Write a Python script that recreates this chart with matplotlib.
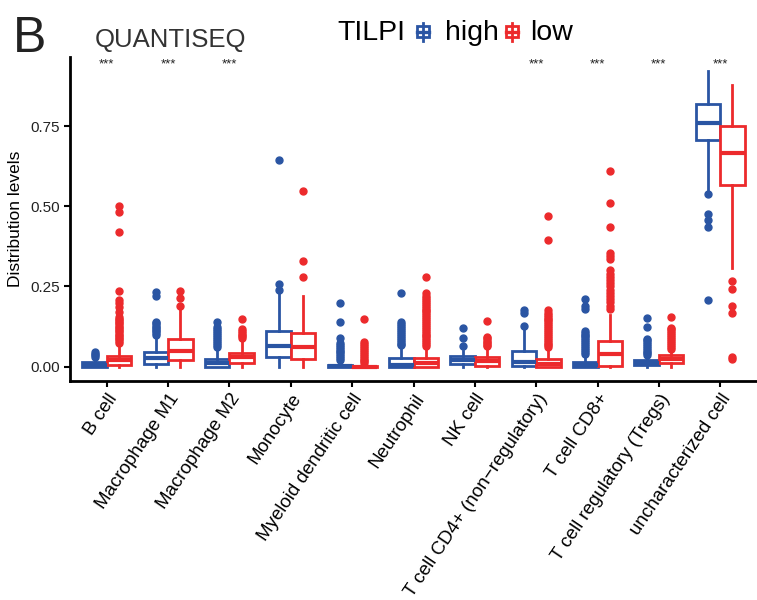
import matplotlib.pyplot as plt
from matplotlib.patches import Rectangle
from matplotlib.lines import Line2D

plt.rcParams['font.family'] = ['Liberation Sans', 'DejaVu Sans']

cells = ["B cell", "Macrophage M1", "Macrophage M2", "Monocyte",
         "Myeloid dendritic cell", "Neutrophil", "NK cell",
         "T cell CD4+ (non\u2212regulatory)", "T cell CD8+",
         "T cell regulatory (Tregs)", "uncharacterized cell"]
stars = ["***", "***", "***", "", "", "", "", "***", "***", "***", "***"]

# box statistics (TILPI high)
high_q1 = [0.0, 0.008, 0.0, 0.030, 0.0, 0.0, 0.008, 0.002, 0.0, 0.005, 0.708]
high_med = [0.006, 0.028, 0.010, 0.065, 0.002, 0.006, 0.020, 0.015, 0.006, 0.012, 0.760]
high_q3 = [0.014, 0.044, 0.025, 0.112, 0.006, 0.028, 0.032, 0.050, 0.015, 0.020, 0.819]
high_lo = [0.0, 0.0, 0.0, 0.0, 0.0, 0.0, 0.0, 0.0, 0.0, 0.0, 0.550]
high_hi = [0.028, 0.095, 0.060, 0.225, 0.015, 0.062, 0.050, 0.115, 0.035, 0.030, 0.922]
high_fliers = [
    [0.030, 0.035, 0.040, 0.045],
    [0.100, 0.105, 0.110, 0.115, 0.120, 0.125, 0.130, 0.135, 0.140, 0.220, 0.234],
    [0.062, 0.068, 0.074, 0.080, 0.086, 0.092, 0.098, 0.104, 0.110, 0.116, 0.122, 0.140],
    [0.239, 0.257, 0.645],
    [0.020, 0.026, 0.032, 0.038, 0.044, 0.050, 0.056, 0.062, 0.068, 0.074, 0.088, 0.139, 0.198],
    [0.066, 0.072, 0.078, 0.084, 0.090, 0.096, 0.102, 0.108, 0.114, 0.120, 0.126, 0.132, 0.138, 0.229],
    [0.063, 0.089, 0.120],
    [0.128, 0.166, 0.176],
    [0.040, 0.046, 0.052, 0.058, 0.064, 0.070, 0.076, 0.082, 0.088, 0.094, 0.100, 0.106, 0.112,
     0.180, 0.190, 0.210],
    [0.035, 0.041, 0.047, 0.053, 0.059, 0.065, 0.071, 0.077, 0.083, 0.087, 0.123, 0.153],
    [0.209, 0.435, 0.458, 0.477, 0.540],
]

# TILPI low
low_q1 = [0.004, 0.020, 0.010, 0.025, 0.0, 0.0, 0.003, 0.0, 0.002, 0.012, 0.568]
low_med = [0.020, 0.048, 0.030, 0.062, 0.0, 0.010, 0.018, 0.008, 0.038, 0.025, 0.665]
low_q3 = [0.032, 0.087, 0.042, 0.105, 0.003, 0.028, 0.030, 0.024, 0.080, 0.035, 0.751]
low_lo = [0.0, 0.0, 0.0, 0.0, 0.0, 0.0, 0.0, 0.0, 0.0, 0.0, 0.308]
low_hi = [0.072, 0.175, 0.080, 0.220, 0.008, 0.060, 0.055, 0.055, 0.160, 0.050, 0.878]
low_fliers = [
    [0.075, 0.080, 0.085, 0.090, 0.095, 0.100, 0.105, 0.110, 0.115, 0.120, 0.125, 0.130, 0.135,
     0.140, 0.145, 0.150, 0.155, 0.170, 0.185, 0.197, 0.208, 0.237, 0.419, 0.482, 0.500],
    [0.190, 0.215, 0.235],
    [0.088, 0.094, 0.100, 0.106, 0.112, 0.118, 0.147],
    [0.279, 0.330, 0.548],
    [0.010, 0.016, 0.022, 0.028, 0.034, 0.040, 0.046, 0.052, 0.058, 0.064, 0.070, 0.076, 0.150],
    [0.064, 0.070, 0.076, 0.082, 0.088, 0.094, 0.100, 0.106, 0.112, 0.118, 0.124, 0.130, 0.136,
     0.142, 0.148, 0.154, 0.160, 0.166, 0.172, 0.178, 0.184, 0.190, 0.196, 0.202, 0.208, 0.214,
     0.220, 0.229, 0.279],
    [0.063, 0.068, 0.073, 0.078, 0.083, 0.088, 0.093, 0.143],
    [0.060, 0.066, 0.072, 0.078, 0.084, 0.090, 0.096, 0.102, 0.108, 0.114, 0.120, 0.126, 0.132,
     0.138, 0.144, 0.150, 0.156, 0.162, 0.168, 0.175, 0.394, 0.469],
    [0.180, 0.190, 0.200, 0.210, 0.220, 0.230, 0.240, 0.250, 0.260, 0.270, 0.280, 0.290, 0.300,
     0.335, 0.345, 0.355, 0.435, 0.510, 0.610],
    [0.056, 0.062, 0.068, 0.074, 0.080, 0.086, 0.092, 0.098, 0.104, 0.110, 0.116, 0.120, 0.156],
    [0.024, 0.031, 0.168, 0.188, 0.243, 0.266],
]

blue = "#2a55a3"
red = "#ec2a2c"


def make_stats(q1, med, q3, lo, hi, fliers):
    return [dict(q1=a, med=b, q3=c, whislo=d, whishi=e, fliers=f)
            for a, b, c, d, e, f in zip(q1, med, q3, lo, hi, fliers)]


def draw_group(ax, stats, positions, color):
    ax.bxp(stats, positions=positions, widths=0.4, showcaps=False, patch_artist=True,
           boxprops=dict(facecolor="white", edgecolor=color, linewidth=2.0),
           medianprops=dict(color=color, linewidth=3.0, solid_capstyle="butt"),
           whiskerprops=dict(color=color, linewidth=2.0),
           flierprops=dict(marker="o", markerfacecolor=color, markeredgecolor=color,
                           markersize=5.0))


fig = plt.figure(figsize=(7.57, 6.0), dpi=100)
ax = fig.add_axes([0.0925, 0.365, 0.9075, 0.54])

xs = list(range(1, len(cells) + 1))
draw_group(ax, make_stats(high_q1, high_med, high_q3, high_lo, high_hi, high_fliers),
           [x - 0.2 for x in xs], blue)
draw_group(ax, make_stats(low_q1, low_med, low_q3, low_lo, low_hi, low_fliers),
           [x + 0.2 for x in xs], red)

for x, s in zip(xs, stars):
    if s:
        ax.text(x, 0.944, s, ha="center", va="center", fontsize=9.5, color="#222222")

ax.set_xlim(0.4, 11.6)
ax.set_ylim(-0.045, 0.966)
ax.set_xticks(xs)
ax.set_xticklabels(cells, rotation=56, ha="right", rotation_mode="anchor",
                   fontsize=13.5, color="black")
ax.set_yticks([0.0, 0.25, 0.5, 0.75])
ax.set_yticklabels(["0.00", "0.25", "0.50", "0.75"], fontsize=11, color="#222222")
ax.set_ylabel("Distribution levels", fontsize=12.5, labelpad=5)
ax.tick_params(axis="both", length=4, width=1.5, color="black")
ax.tick_params(axis="x", pad=3)
for side in ("top", "right"):
    ax.spines[side].set_visible(False)
for side in ("left", "bottom"):
    ax.spines[side].set_linewidth(2.0)

# panel letter, title and legend
fig.text(13 / 757, 1 - 52 / 600, "B", fontsize=36, color="#222222", va="baseline")
fig.text(95 / 757, 1 - 47 / 600, "QUANTISEQ", fontsize=18.5, color="#333333", va="baseline")
fig.text(337 / 757, 1 - 40 / 600, "TILPI", fontsize=20.5, color="black", va="baseline")
fig.text(445 / 757, 1 - 40 / 600, "high", fontsize=20.5, color="black", va="baseline")
fig.text(530 / 757, 1 - 40 / 600, "low", fontsize=20.5, color="black", va="baseline")

for cx, color in ((423, blue), (512, red)):
    tr = fig.transFigure
    fig.add_artist(Line2D([cx / 757, cx / 757], [1 - 22.5 / 600, 1 - 41 / 600],
                          color=color, linewidth=2.0, transform=tr))
    fig.add_artist(Rectangle(((cx - 6) / 757, 1 - 37 / 600), 12 / 757, 11 / 600,
                             facecolor="white", edgecolor=color, linewidth=2.0,
                             transform=tr))
    fig.add_artist(Line2D([(cx - 6) / 757, (cx + 6) / 757], [1 - 31.5 / 600, 1 - 31.5 / 600],
                          color=color, linewidth=2.4, transform=tr))

fig.savefig("out.png", dpi=100)
